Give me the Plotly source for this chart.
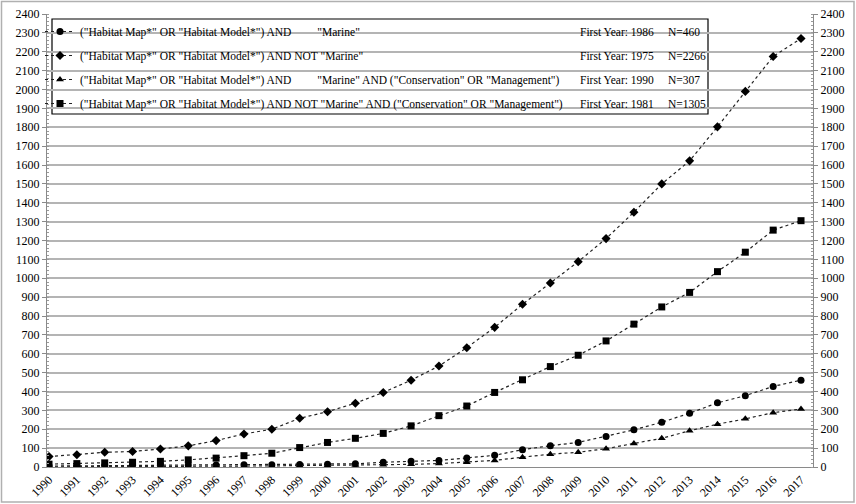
import plotly.graph_objects as go

years = list(range(1990, 2018))

marine = [5, 6, 7, 8, 9, 10, 10, 12, 12, 13, 15, 17, 25, 30, 35, 48, 62, 92, 113, 130,
          162, 197, 237, 285, 340, 378, 427, 460]
not_marine = [55, 65, 78, 82, 95, 112, 140, 175, 200, 258, 293, 338, 395, 460, 535, 632,
              740, 862, 975, 1088, 1210, 1350, 1500, 1622, 1802, 1990, 2175, 2270]
marine_cons = [1, 1, 2, 2, 3, 3, 4, 5, 6, 7, 8, 10, 12, 14, 18, 25, 35, 52, 68, 78,
               97, 125, 152, 192, 227, 255, 288, 307]
not_marine_cons = [15, 18, 22, 25, 30, 38, 47, 60, 73, 103, 130, 152, 178, 218, 272, 323,
                   395, 462, 532, 592, 668, 757, 848, 925, 1035, 1138, 1255, 1305]

NB = "\u00a0"
names = [
    '("Habitat Map*" OR "Habitat Model*") AND' + NB * 9 + '"Marine"',
    '("Habitat Map*" OR "Habitat Model*") AND NOT "Marine"',
    '("Habitat Map*" OR "Habitat Model*") AND' + NB * 9 + '"Marine" AND ("Conservation" OR "Management")',
    '("Habitat Map*" OR "Habitat Model*") AND NOT "Marine" AND ("Conservation" OR "Management")',
]
first_years = ["First Year: 1986", "First Year: 1975", "First Year: 1990", "First Year: 1981"]
n_labels = ["N=460", "N=2266", "N=307", "N=1305"]
series = [marine, not_marine, marine_cons, not_marine_cons]
symbols = ["circle", "diamond", "triangle-up", "square"]

FONT = "Liberation Serif, Times New Roman, serif"
LFS = 11.5

fig = go.Figure()
for i, (nm, vals, sym) in enumerate(zip(names, series, symbols)):
    fig.add_trace(go.Scatter(
        x=years, y=vals, name=nm, mode="lines+markers",
        line=dict(color="#222222", width=1.2, dash="dot"),
        marker=dict(symbol=sym, size=7, color="black"),
        legendgroup="g%d" % i,
    ))

W, H = 856, 504
L, R, T, B = 47, 43, 14, 37
pw, ph = W - L - R, H - T - B


def px(x):
    return (x - L) / pw


def py(y):
    return (H - B - y) / ph


shapes = [
    # legend frame
    dict(type="rect", xref="paper", yref="paper", layer="between",
         x0=px(52), x1=px(708), y0=py(114), y1=py(19),
         fillcolor="white", line=dict(color="black", width=1.2)),
    # outer border
    dict(type="rect", xref="paper", yref="paper",
         x0=px(1.5), x1=px(854), y0=py(502), y1=py(1.5),
         line=dict(color="#b0b0b0", width=1.5)),
]

annotations = []
rows_y = [32, 56, 80, 104]
for fy, nl, ry in zip(first_years, n_labels, rows_y):
    annotations.append(dict(text=fy, x=px(578), y=py(ry), xref="paper", yref="paper",
                            xanchor="left", yanchor="middle", showarrow=False,
                            font=dict(family=FONT, size=LFS, color="black")))
    annotations.append(dict(text=nl, x=px(666), y=py(ry), xref="paper", yref="paper",
                            xanchor="left", yanchor="middle", showarrow=False,
                            font=dict(family=FONT, size=LFS, color="black")))

yax = dict(range=[0, 2400], dtick=100, tick0=0, showgrid=True, gridcolor="#b4b4b4",
           gridwidth=1.5, showline=True, linecolor="#8a8a8a", linewidth=1,
           ticks="outside", ticklen=4, tickcolor="#8a8a8a",
           minor=dict(dtick=20, ticks="inside", ticklen=2, tickcolor="#9a9a9a"),
           tickfont=dict(family=FONT, size=12, color="black"), zeroline=False,
           fixedrange=True, automargin=False)

fig.update_layout(
    width=W, height=H,
    margin=dict(l=L, r=R, t=T, b=B, pad=0, autoexpand=False),
    paper_bgcolor="white", plot_bgcolor="white",
    font=dict(family=FONT, size=12, color="black"),
    xaxis=dict(range=[1990 - 0.072, 2017 + 0.43], tickmode="array", tickvals=years,
               ticktext=[str(y) for y in years], tickangle=-45,
               showgrid=False, showline=True, linecolor="#8a8a8a", linewidth=1,
               ticks="", tickfont=dict(family=FONT, size=12, color="black"),
               zeroline=False, automargin=False, fixedrange=True),
    yaxis=yax,
    yaxis2=dict(yax, overlaying="y", side="right", showgrid=False),
    showlegend=True,
    legend=dict(xref="container", yref="container", x=40 / W, y=1 - 17 / H,
                xanchor="left", yanchor="top",
                bgcolor="rgba(0,0,0,0)", borderwidth=0,
                font=dict(family=FONT, size=LFS, color="black"),
                itemwidth=30, tracegroupgap=5, traceorder="grouped"),
    shapes=shapes, annotations=annotations,
)

# right axis mirrors the left axis scale
fig.add_trace(go.Scatter(x=years, y=not_marine, yaxis="y2", mode="markers",
                         marker=dict(opacity=0), showlegend=False, hoverinfo="skip"))

fig.write_html("out.html", config={"displayModeBar": False},
               post_script="document.body.style.margin='0';document.body.style.overflow='hidden';")
